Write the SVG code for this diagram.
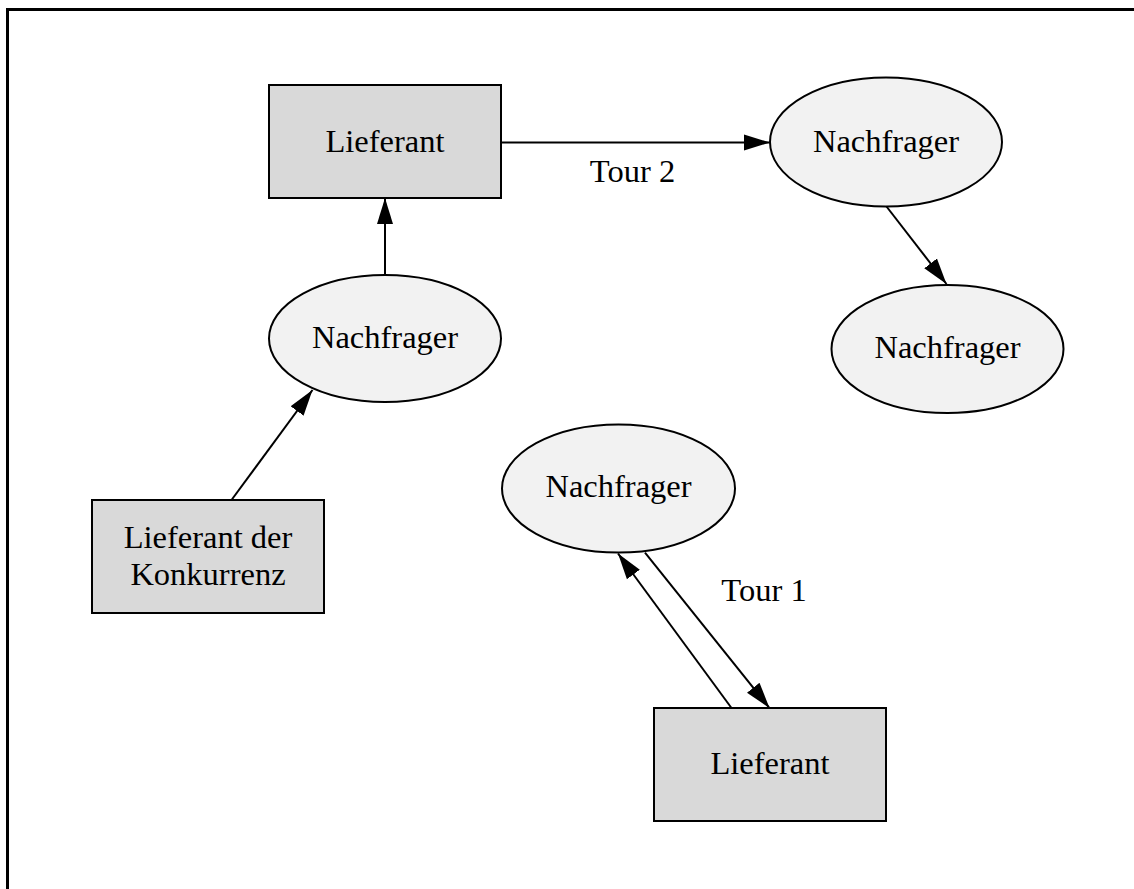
<svg xmlns="http://www.w3.org/2000/svg" width="1134" height="889" viewBox="0 0 1134 889">
  <style>
    .box { fill: #d9d9d9; stroke: #000; stroke-width: 2; }
    .oval { fill: #f2f2f2; stroke: #000; stroke-width: 2; }
    .lbl { font-family: "Liberation Serif", "Times New Roman", serif; font-size: 32.5px; fill: #000; text-anchor: middle; }
    .edge { stroke: #000; stroke-width: 2; fill: none; marker-end: url(#arrow); }
    .frame { stroke: #000; stroke-width: 3; fill: none; }
  </style>
  <defs>
    <marker id="arrow" markerUnits="userSpaceOnUse" markerWidth="26" markerHeight="18" viewBox="0 0 26 18" refX="26" refY="9" orient="auto">
      <path d="M0,1 L26,9 L0,17 Z" fill="#000"/>
    </marker>
  </defs>
  <rect width="1134" height="889" fill="#fff"/>

  <!-- outer frame (top and left edges) -->
  <path class="frame" d="M7.5,889 L7.5,9.5 L1134,9.5"/>

  <g id="connectors">
    <line class="edge" x1="501" y1="142.5" x2="770" y2="142.5"/>
    <line class="edge" x1="886.5" y1="206.5" x2="946.5" y2="284"/>
    <line class="edge" x1="385" y1="275" x2="385" y2="198"/>
    <line class="edge" x1="231.5" y1="500" x2="312.5" y2="390"/>
    <line class="edge" x1="731.5" y1="708" x2="618" y2="553.5"/>
    <line class="edge" x1="645" y1="552.5" x2="769.5" y2="708"/>
    <text class="lbl" x="632.5" y="181.5">Tour 2</text>
    <text class="lbl" x="764" y="600.5">Tour 1</text>
  </g>

  <g id="lieferant-top">
    <rect class="box" x="269" y="85" width="232" height="113"/>
    <text class="lbl" x="385" y="151.5">Lieferant</text>
  </g>

  <g id="nachfrager-top">
    <ellipse class="oval" cx="886" cy="142" rx="116" ry="64.5"/>
    <text class="lbl" x="886" y="151.5">Nachfrager</text>
  </g>

  <g id="nachfrager-right">
    <ellipse class="oval" cx="947.5" cy="349" rx="116" ry="64"/>
    <text class="lbl" x="947.5" y="358">Nachfrager</text>
  </g>

  <g id="nachfrager-left">
    <ellipse class="oval" cx="385" cy="338.5" rx="116" ry="63.5"/>
    <text class="lbl" x="385" y="348">Nachfrager</text>
  </g>

  <g id="lieferant-konkurrenz">
    <rect class="box" x="92" y="500" width="232" height="113"/>
    <text class="lbl" x="208" y="548">Lieferant der</text>
    <text class="lbl" x="208" y="585">Konkurrenz</text>
  </g>

  <g id="nachfrager-bottom">
    <ellipse class="oval" cx="618.5" cy="488.5" rx="116.5" ry="64"/>
    <text class="lbl" x="618.5" y="497">Nachfrager</text>
  </g>

  <g id="lieferant-bottom">
    <rect class="box" x="654" y="708" width="232" height="113"/>
    <text class="lbl" x="770" y="774">Lieferant</text>
  </g>
</svg>
